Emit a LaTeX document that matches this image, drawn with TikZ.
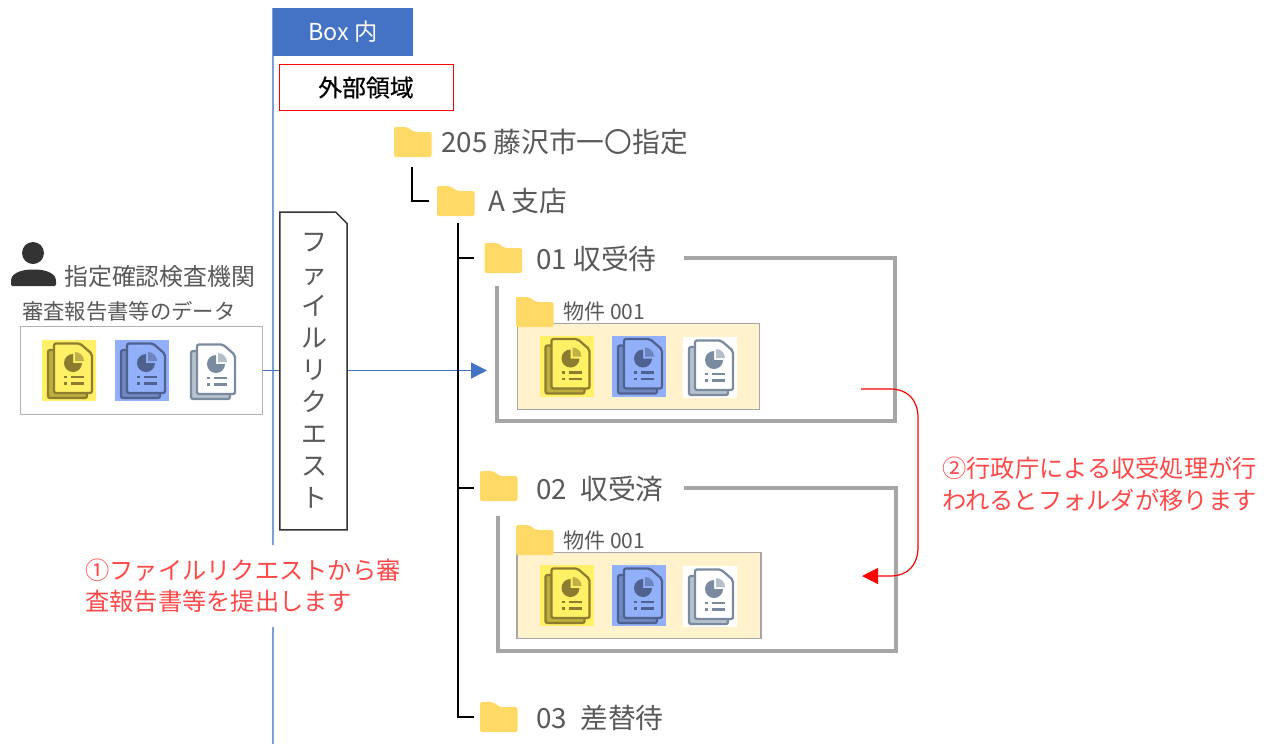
\documentclass[tikz,border=0pt]{standalone}
\usepackage{fontspec}
\setmainfont{Noto Sans CJK JP}
\usetikzlibrary{arrows.meta}
\definecolor{txt}{HTML}{595959}
\definecolor{boxblue}{HTML}{4472C4}
\definecolor{vline}{HTML}{7F9FD9}
\definecolor{graybox}{HTML}{A6A6A6}
\definecolor{folderc}{HTML}{FFD966}
\definecolor{creamc}{HTML}{FFF2CC}
\definecolor{redt}{HTML}{FF4848}
\definecolor{yb}{HTML}{FFF066}\definecolor{ys}{HTML}{8C7C30}\definecolor{yk}{HTML}{BFAE3C}
\definecolor{bb}{HTML}{92B0FA}\definecolor{bs}{HTML}{4F618F}\definecolor{bk}{HTML}{6F88C2}
\definecolor{ws}{HTML}{7A8BA0}\definecolor{wk}{HTML}{B8C2CE}
\newcommand{\fs}[1]{\fontsize{#1pt}{#1pt}\selectfont}
\newcommand{\fsb}[2]{\fontsize{#1pt}{#2pt}\selectfont}
\tikzset{
  x=.75pt,y=-.75pt,
  labeltext/.style={text=txt,inner sep=0pt,anchor=west},
  treeline/.style={draw=black,line width=1pt},
  grayline/.style={draw=graybox,line width=2.35pt},
  redlabel/.style={text=redt,fill=white,inner xsep=3pt,inner ysep=0pt,minimum height=62pt,anchor=west,align=left,font=\fsb{18.2}{23.7},text width=246pt},
  pics/folder/.style={code={
    \fill[folderc,rounded corners=1.5pt] (0,0) -- (13,0) -- (20,5) -- (37.5,5) -- (37.5,30) -- (0,30) -- cycle;
  }},
  pics/docicon/.style n args={4}{code={
    \ifx\relax#1\relax\else\fill[#1] (0,0) rectangle (54,61);\fi
    \draw[#2,line width=1.7pt,fill=#3,line join=round,rounded corners=1.5pt] (6,10) rectangle (45,58);
    \draw[#2,line width=1.7pt,fill=#4,line join=round,rounded corners=1.5pt] (12,3.5) -- (38,3.5) -- (50,14) -- (50,53) -- (12,53) -- cycle;
    \fill[#2] (31,23) -- (40,23) arc[start angle=0,end angle=270,radius=9] -- cycle;
    \fill[#2,opacity=.55] (33,21) -- (33,12) arc[start angle=-90,end angle=0,radius=9] -- cycle;
    \fill[#2] (22,35.5) rectangle (25,38);
    \fill[#2] (22,42) rectangle (25,44.5);
    \fill[#2] (29,35.5) rectangle (42,38);
    \fill[#2] (29,42) rectangle (42,44.5);
  }}
}
\begin{document}
\begin{tikzpicture}
\useasboundingbox (0,0) rectangle (1270,744);
\fill[white] (0,0) rectangle (1270,744);
% vertical boundary
\coordinate (vtop) at (273,8);
\coordinate (vbot) at (273,744);
\draw[vline,line width=1.5pt] (vtop) -- (vbot);
% header boxes
\node[fill=boxblue,text=white,minimum width=105pt,minimum height=36pt,inner sep=0pt,font=\fs{17.5}] (boxin) at (343,32) {Box 内};
\node[draw=red,fill=white,line width=.75pt,minimum width=130.5pt,minimum height=35pt,inner sep=0pt,text=black,font=\fs{17.9}\addfontfeature{FakeBold=0.5}] (ext) at (366,87.5) {外部領域};
% person
\fill[black!80] (33,253) circle[radius=11];
\fill[black!80,rounded corners=1pt] (11,286) -- (11,280) .. controls (13,272) and (24,269.5) .. (33.5,269.5) .. controls (43,269.5) and (54,272) .. (56,280) -- (56,286) -- cycle;
\node[labeltext,font=\fs{17.9}] (org) at (64,276) {指定確認検査機関};
\node[labeltext,font=\fs{16}] (data) at (22,311) {審査報告書等のデータ};
% source box
\node[draw=graybox!85,line width=.9pt,fill=white,minimum width=182pt,minimum height=66pt,inner sep=0pt] (src) at (141.5,370.5) {};
\pic at (42,340) {docicon={yb}{ys}{yk}{yb}};
\pic at (115,340) {docicon={bb}{bs}{bk}{bb}};
\pic at (185,341) {docicon={}{ws}{wk}{white}};
% arrow
\coordinate (arrowend) at (487,370.5);
\draw[boxblue,line width=.9pt,-{Triangle[length=12pt,width=12pt]}] (src.east) -- (arrowend);
% file request
\node[inner sep=0pt,minimum width=50pt,minimum height=238pt] (freq) at (313.5,371) {};
\draw[fill=white,draw=black!80,line width=1.1pt] (freq.north west) -- ([xshift=-8.5pt]freq.north east) -- ([yshift=-8.5pt]freq.north east) -- (freq.south east) -- (freq.south west) -- cycle;
\node[text=txt,font=\fsb{19.5}{24},align=center,inner sep=0pt] (freqt) at (314,371) {フ\\ァ\\イ\\ル\\リ\\ク\\エ\\ス\\ト};
% tree
\pic at (394,127) {folder};
\node[labeltext,font=\fs{20.8}] (n205) at (441,142) {205 藤沢市一〇指定};
\pic at (437,186) {folder};
\node[labeltext,font=\fs{20.8}] (nA) at (488,201) {A 支店};
\pic at (484.5,243) {folder};
\node[labeltext,font=\fs{20.8}] (n01) at (536,259) {01 収受待};
\pic at (480,471) {folder};
\node[labeltext,font=\fs{20.8}] (n02) at (536,489) {02\hspace{10pt}収受済};
\pic at (480,702) {folder};
\node[labeltext,font=\fs{20.8}] (n03) at (536,718) {03\hspace{10pt}差替待};
\coordinate (a1) at (412,167); \coordinate (a2) at (429,201);
\draw[treeline] (a1) |- (a2);
\coordinate (t0) at (458,223); \coordinate (t3) at (474,717);
\coordinate (t1) at (474,258); \coordinate (t2) at (474,488);
\draw[treeline] (t0) |- (t3);
\draw[treeline] (t0 |- t1) -- (t1);
\draw[treeline] (t0 |- t2) -- (t2);
% gray frames
\coordinate (g1a) at (684,258); \coordinate (g1b) at (895,421); \coordinate (g1c) at (497,286);
\draw[grayline] (g1a) -| (g1b) -| (g1c);
\coordinate (g2a) at (684,488); \coordinate (g2b) at (896,651); \coordinate (g2c) at (498,516);
\draw[grayline] (g2a) -| (g2b) -| (g2c);
% inner boxes
\node[draw=graybox,fill=creamc,line width=.9pt,minimum width=182pt,minimum height=65pt,inner sep=0pt] (inner1) at (638.5,366.5) {};
\node[draw=graybox,fill=creamc,line width=.9pt,minimum width=183pt,minimum height=65pt,inner sep=0pt] (inner2) at (639,595.5) {};
\pic at (516,297) {folder};
\pic at (516,525) {folder};
\node[labeltext,font=\fs{15.8}] (p1) at (563,311) {物件 001};
\node[labeltext,font=\fs{15.8}] (p2) at (563,540) {物件 001};
\pic at (539.5,335.5) {docicon={yb}{ys}{yk}{yb}};
\pic at (612,335.5) {docicon={bb}{bs}{bk}{bb}};
\pic at (683,337) {docicon={white}{ws}{wk}{white}};
\pic at (539.5,565) {docicon={yb}{ys}{yk}{yb}};
\pic at (612,565) {docicon={bb}{bs}{bk}{bb}};
\pic at (683,566) {docicon={white}{ws}{wk}{white}};
% red connector
\coordinate (r1) at (861,389); \coordinate (r2) at (862,576);
\draw[red,line width=.9pt,-{Triangle[length=12pt,width=12pt]}] (r1) -- (890,389) .. controls (908,389) and (918,400) .. (918,418) -- (918,547) .. controls (918,565) and (908,576) .. (890,576) -- (r2);
% red labels
\node[redlabel] (lab1) at (81,586) {①ファイルリクエストから審\\査報告書等を提出します};
\node[redlabel,fill=none] (lab2) at (938,484) {②行政庁による収受処理が行\\われるとフォルダが移ります};
\end{tikzpicture}
\end{document}
